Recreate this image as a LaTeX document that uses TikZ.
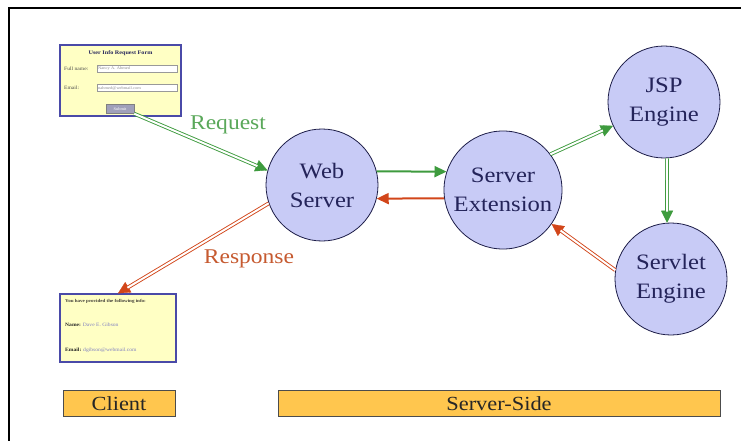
\documentclass[tikz,border=0pt]{standalone}
\usepackage{fontspec}
\setmainfont[FakeStretch=1.12]{Liberation Serif}
\usetikzlibrary{positioning,calc,arrows.meta}
\definecolor{lav}{HTML}{C8CBF6}
\definecolor{navy}{HTML}{24245A}
\definecolor{webgreen}{HTML}{3E9B3E}
\definecolor{webred}{HTML}{D2461A}
\definecolor{labgreen}{HTML}{5AA85A}
\definecolor{labred}{HTML}{C65A30}
\definecolor{paper}{HTML}{FFFFC4}
\definecolor{formblue}{HTML}{4A4AA8}
\definecolor{amber}{HTML}{FFC64E}
\tikzset{
  engine/.style={circle, draw=navy!80!black, fill=lav, line width=0.8pt, minimum size=112pt,
    inner sep=0pt, align=center, text=navy, font=\fontsize{22}{29}\selectfont},
  formbox/.style={draw=formblue, line width=1.3pt, fill=paper, inner sep=0pt},
  field/.style={draw=black!40, fill=white, inner sep=1pt, minimum height=7pt, anchor=west,
    text=black!45, align=left, text width=78pt, font=\fontsize{4}{5}\selectfont},
  tiny/.style={inner sep=0pt, anchor=west, font=\fontsize{5}{6}\selectfont},
  bar/.style={draw=black!70, line width=1pt, fill=amber, inner sep=0pt, minimum height=26pt,
    font=\fontsize{20}{24}\selectfont, text=black!85},
  dbl/.style={draw=#1, double=white, double distance=2pt, line width=0.9pt},
  tip/.style={draw=#1, line width=0.3pt, -{Triangle[length=12pt,width=12pt,fill=#1]}},
  flat/.style={draw=#1, line width=2pt, -{Triangle[length=12pt,width=11pt]}},
}
% hollow two-line connector with a filled head
\newcommand{\hollowarrow}[3]{%
  \draw[tip=#1] (#2) -- (#3);
  \draw[dbl=#1, shorten >=11pt] (#2) -- (#3);}

\begin{document}
\begin{tikzpicture}[x=1pt,y=-1pt]
\useasboundingbox[fill=white] (0,0) rectangle (741,441);
\draw[line width=1.3pt] (9,441) |- (741,8);

% CLIENT: request form
\node[formbox, minimum width=121pt, minimum height=71pt] (req) at (120.5,80.5) {};
\node[inner sep=0pt, font=\bfseries\fontsize{5.5}{6}\selectfont, text=navy] (reqtitle) at (120.5,53) {User Info Request Form};
\node[tiny, text=black!70] (namelab) at (64,69) {Full name:};
\node[field] (namefld) at (97,69) {Nancy A. Ahmed};
\node[tiny, text=black!70] (maillab) at (64,88) {Email:};
\node[field] (mailfld) at (97,88) {nahmed@webmail.com};
\node[draw=black!50, fill=black!40!formblue!45, inner sep=0pt, minimum width=28pt, minimum height=9pt,
  font=\fontsize{4}{5}\selectfont, text=white] (btn) at (120,109) {Submit};

% CLIENT: response page
\node[formbox, minimum width=116pt, minimum height=68pt] (resp) at (118,328) {};
\node[tiny, font=\bfseries\fontsize{4.5}{5}\selectfont, text=black!85!yellow] (resptitle) at (65,301) {You have provided the following info:};
\node[tiny, text=black!85] (respname) at (65,325) {\textbf{Name:} \textcolor{formblue!70}{Dave E. Gibson}};
\node[tiny, text=black!85] (respmail) at (65,350) {\textbf{Email:} \textcolor{formblue!70}{dgibson@webmail.com}};

% SERVER SIDE
\node[engine] (web) at (322,185) {Web\\Server};
\node[engine, minimum size=118pt] (ext) at (503,190) {Server\\Extension};
\node[engine] (jsp) at (664,102) {JSP\\Engine};
\node[engine] (srv) at (671,279) {Servlet\\Engine};

% connectors
\hollowarrow{webgreen}{btn.south east}{web.165}
\hollowarrow{webred}{web.199}{resp.north}
\draw[flat=webgreen] (web.14) -- (ext.162);
\draw[flat=webred] (ext.188) -- (web.346);
\hollowarrow{webgreen}{ext.37}{jsp.205}
\hollowarrow{webgreen}{jsp.-87}{srv.94}
\hollowarrow{webred}{srv.171}{ext.-35}

\node[text=labgreen, font=\fontsize{21}{24}\selectfont] (reqlab) at (228,125) {Request};
\node[text=labred, font=\fontsize{21}{24}\selectfont] (resplab) at (249,259) {Response};

% tiers
\node[bar, minimum width=112pt] (client) at (119,403.5) {Client};
\node[bar, minimum width=442pt] (serverside) at (499,403.5) {Server-Side};
\end{tikzpicture}
\end{document}
